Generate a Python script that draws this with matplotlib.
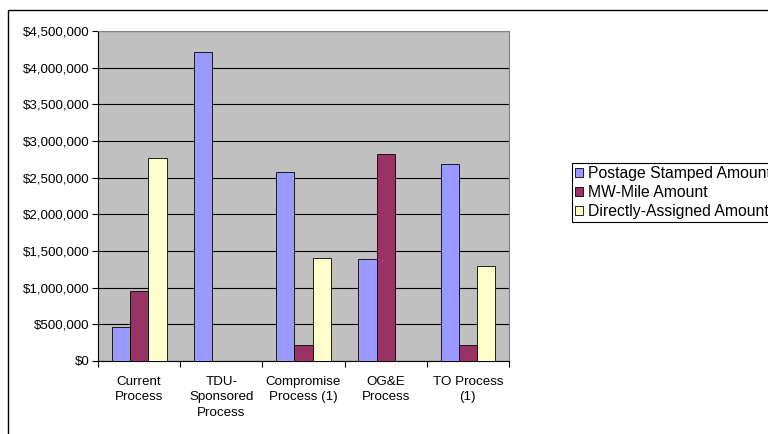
import numpy as np
import matplotlib.pyplot as plt
from matplotlib.patches import Rectangle
from matplotlib.ticker import FuncFormatter

plt.rcParams["font.family"] = ["Liberation Sans", "DejaVu Sans"]
plt.rcParams["font.size"] = 9.6

categories = ["Current\nProcess", "TDU-\nSponsored\nProcess", "Compromise\nProcess (1)",
              "OG&E\nProcess", "TO Process\n(1)"]
postage = [465000, 4213000, 2580000, 1388000, 2680000]
mw_mile = [960000, 0, 223000, 2821000, 223000]
direct = [2762000, 0, 1406000, 0, 1301000]
series_names = ["Postage Stamped Amount", "MW-Mile Amount", "Directly-Assigned Amount"]
colors = ["#9999FF", "#993366", "#FFFFCC"]

fig = plt.figure(figsize=(7.68, 4.34), dpi=100)
ax = fig.add_axes([98/768, 1-361/434, (509-98)/768, (361-31)/434])
ax.set_facecolor("#C0C0C0")

x = np.arange(len(categories))
w = 1/4.5
for k, vals in enumerate([postage, mw_mile, direct]):
    ax.bar(x + (k-1)*w, vals, w, color=colors[k], edgecolor="black", linewidth=0.6,
           label=series_names[k], zorder=3)

ax.set_xlim(-0.5, len(categories)-0.5)
ax.set_ylim(0, 4500000)
ax.set_yticks(np.arange(0, 4500001, 500000))
ax.yaxis.set_major_formatter(FuncFormatter(lambda v, p: "${:,.0f}".format(v)))
ax.grid(axis="y", color="black", linewidth=0.8, zorder=1)

ax.set_xticks(x)
ax.set_xticklabels(categories, linespacing=1.35)
ax.set_xticks(np.arange(-0.5, len(categories)), minor=True)
ax.tick_params(axis="x", which="major", length=0, pad=11)
ax.tick_params(axis="x", which="minor", length=4, width=0.8)
ax.tick_params(axis="y", length=4, width=0.8, pad=2)

for s in ["top", "right"]:
    ax.spines[s].set_color("#808080")
ax.spines["left"].set_color("black")
ax.spines["bottom"].set_color("black")

leg = fig.legend(loc="upper left", bbox_to_anchor=(572/768, 1-163/434), fancybox=False,
                 edgecolor="black", framealpha=1, handlelength=0.5, handleheight=0.5,
                 handletextpad=0.3, borderpad=0.2, labelspacing=0.25, borderaxespad=0,
                 fontsize=11.3)
leg.get_frame().set_linewidth(0.8)

fig.patches.append(Rectangle((8/768, -0.1), 1.2, 1.1 - 10/434, transform=fig.transFigure,
                             fill=False, edgecolor="black", linewidth=1.0))

fig.savefig("out.png", dpi=100)
